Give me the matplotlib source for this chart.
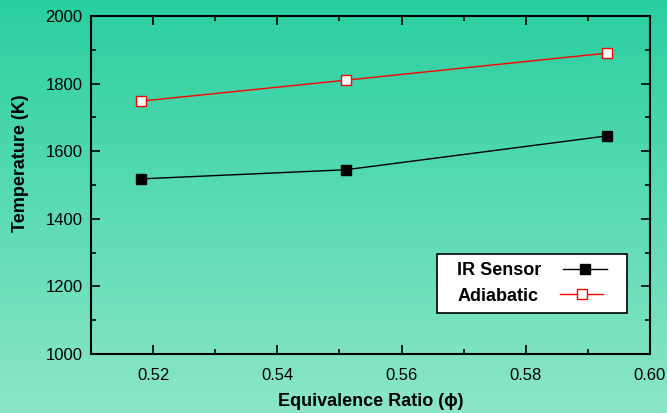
import numpy as np
import matplotlib
matplotlib.use("Agg")
import matplotlib.pyplot as plt
from matplotlib.colors import LinearSegmentedColormap
from matplotlib.patches import Rectangle
from matplotlib.ticker import MultipleLocator

plt.rcParams['font.family'] = ['Liberation Sans', 'DejaVu Sans']

# data
phi = [0.518, 0.551, 0.593]
ir_sensor = [1518, 1545, 1645]
adiabatic = [1748, 1810, 1890]

fig = plt.figure(figsize=(6.67, 4.13), dpi=100)

# green gradient background
bg = fig.add_axes([0, 0, 1, 1], zorder=-10)
grad = np.linspace(0, 1, 256).reshape(-1, 1)
cmap = LinearSegmentedColormap.from_list("bg", ["#29cf9f", "#8ce6c8"])
bg.imshow(grad, aspect='auto', cmap=cmap, extent=[0, 1, 0, 1])
bg.axis('off')

ax = fig.add_axes([0.1364, 0.1429, 0.8381, 0.8184])
ax.patch.set_alpha(0)

ax.plot(phi, ir_sensor, color='black', lw=1, marker='s', ms=7.5,
        mfc='black', mec='black', label='IR Sensor')
ax.plot(phi, adiabatic, color='red', lw=1, marker='s', ms=7.5,
        mfc='white', mec='red', mew=1, label='Adiabatic')

ax.set_xlim(0.51, 0.60)
ax.set_ylim(1000, 2000)
ax.xaxis.set_major_locator(MultipleLocator(0.02))
ax.xaxis.set_minor_locator(MultipleLocator(0.01))
ax.yaxis.set_major_locator(MultipleLocator(200))
ax.yaxis.set_minor_locator(MultipleLocator(100))
ax.set_xticks(ax.get_xticks())
ax.set_xticklabels([f"{v:.2f}" for v in ax.get_xticks()])
ax.set_xlim(0.51, 0.60)

ax.tick_params(which='both', direction='in', top=True, right=True,
               labelsize=12, width=1.2, colors='black')
ax.tick_params(which='major', length=6.5)
ax.tick_params(which='minor', length=3.6)
ax.tick_params(axis='x', pad=10)
ax.tick_params(axis='y', pad=6)
for s in ax.spines.values():
    s.set_linewidth(1.5)

ax.set_xlabel('Equivalence Ratio (\u03d5)', fontsize=13, fontweight='bold')
ax.set_ylabel('Temperature (K)', fontsize=13, fontweight='bold')
ax.xaxis.set_label_coords(0.5, -0.115)
ax.yaxis.set_label_coords(-0.111, 0.565)

# legend: box drawn separately, text left / marker right
ax.add_patch(Rectangle((0.619, 0.121), 0.340, 0.175, transform=ax.transAxes,
                       facecolor='white', edgecolor='black', lw=1.2, zorder=4))
leg = ax.legend(loc='center', bbox_to_anchor=(0.789, 0.2085), markerfirst=False,
                frameon=False, prop={'weight': 'bold', 'size': 13},
                handlelength=2.4, handletextpad=1.2, borderpad=0,
                labelspacing=0.45)
leg.set_zorder(5)
for col in leg._legend_handle_box.get_children():
    col.align = 'left'

fig.savefig("out.png", dpi=100)
